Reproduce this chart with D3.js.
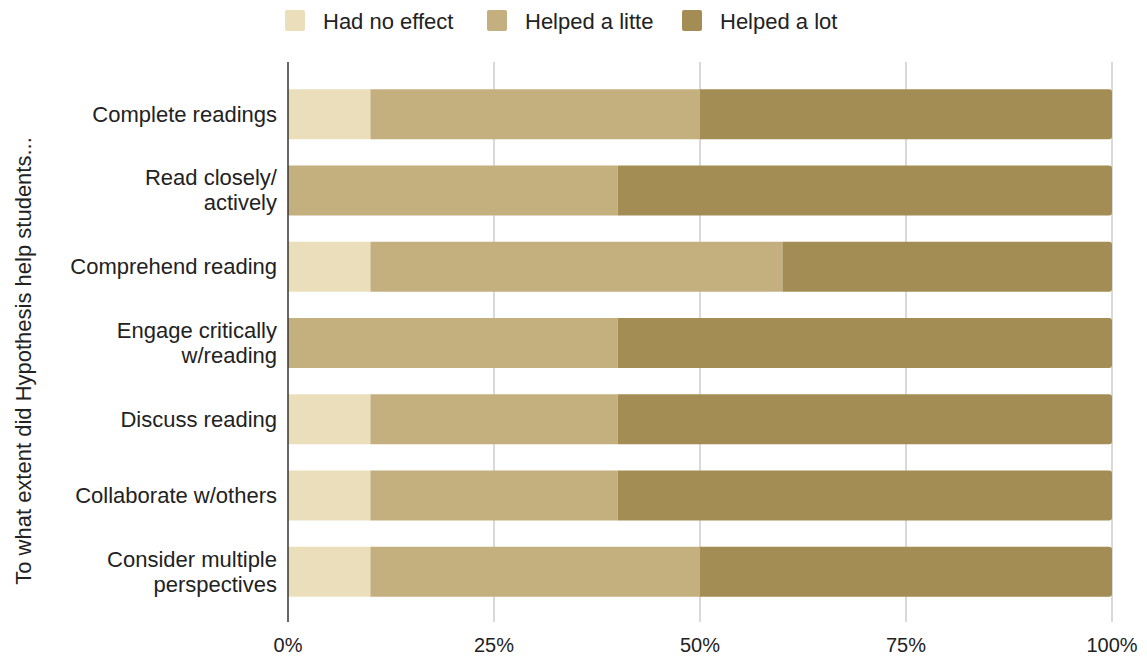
<!DOCTYPE html>
<html><head><meta charset="utf-8">
<script src="https://cdn.jsdelivr.net/npm/d3@7"></script>
<style>body{margin:0;background:#fff;} text{font-family:"Liberation Sans",Arial,sans-serif;}</style>
</head><body><svg id="c" width="1147" height="658"></svg>
<script>
const categories = [["Complete readings"],["Read closely/","actively"],["Comprehend reading"],["Engage critically","w/reading"],["Discuss reading"],["Collaborate w/others"],["Consider multiple","perspectives"]];
const seriesNames = ["Had no effect","Helped a litte","Helped a lot"];
const noEffect = [10,0,10,0,10,10,10];
const helpedLittle = [40,40,50,40,30,30,40];
const helpedLot = [50,60,40,60,60,60,50];
const tickValues = [0,25,50,75,100];
const colors = ["#EBDFBB","#C4B07F","#A38D55"];
const yTitle = "To what extent did Hypothesis help students...";

const svg = d3.select("#c");
const x = d3.scaleLinear().domain([0,100]).range([288,1112]);
const y = d3.scaleBand().domain(d3.range(categories.length)).range([76,610]).paddingInner(0.345).paddingOuter(0.1725);

// gridlines
svg.append("g").selectAll("line").data(tickValues.slice(1)).join("line")
  .attr("x1",d=>x(d)).attr("x2",d=>x(d)).attr("y1",62).attr("y2",622)
  .attr("stroke","#cccccc").attr("stroke-width",1.5);

const rows = categories.map((c,i)=>({i, vals:[noEffect[i],helpedLittle[i],helpedLot[i]]}));
const segs = [];
rows.forEach(r=>{let acc=0; r.vals.forEach((v,k)=>{ if(v>0) segs.push({i:r.i,k,x0:acc,x1:acc+v,last:k===2}); acc+=v;});});

function segPath(d){
  const x0=x(d.x0), x1=x(d.x1), y0=y(d.i), h=y.bandwidth(), r=3;
  if(!d.last) return `M${x0},${y0}H${x1}V${y0+h}H${x0}Z`;
  return `M${x0},${y0}H${x1-r}Q${x1},${y0} ${x1},${y0+r}V${y0+h-r}Q${x1},${y0+h} ${x1-r},${y0+h}H${x0}Z`;
}
svg.append("g").selectAll("path").data(segs).join("path")
  .attr("d",segPath).attr("fill",d=>colors[d.k]);

// y axis line
svg.append("line").attr("x1",x(0)).attr("x2",x(0)).attr("y1",62).attr("y2",622)
  .attr("stroke","#333").attr("stroke-width",1.5);

// category labels
const lab = svg.append("g").selectAll("text").data(categories).join("text")
  .attr("text-anchor","end").attr("font-size",22).attr("fill","#222")
  .attr("x",277)
  .attr("y",(d,i)=>y(i)+y.bandwidth()/2 + 7.5 - (d.length-1)*12.5);
lab.selectAll("tspan").data(d=>d).join("tspan").attr("x",277).attr("dy",(d,j)=>j===0?0:25).text(d=>d);

// x tick labels
svg.append("g").selectAll("text").data(tickValues).join("text")
  .attr("x",d=>x(d)).attr("y",652).attr("text-anchor","middle").attr("font-size",20).attr("fill","#222")
  .text(d=>d+"%");

// y title
svg.append("text").attr("transform","translate(31,361) rotate(-90)").attr("text-anchor","middle")
  .attr("font-size",22).attr("fill","#222").text(yTitle);

// legend
const legX = [285,487,682];
const lg = svg.append("g").selectAll("g").data(seriesNames).join("g").attr("transform",(d,i)=>`translate(${legX[i]},10)`);
lg.append("rect").attr("width",20).attr("height",21).attr("rx",2).attr("fill",(d,i)=>colors[i]);
lg.append("text").attr("x",38).attr("y",19).attr("font-size",22).attr("fill","#222").text(d=>d);
</script></body></html>
